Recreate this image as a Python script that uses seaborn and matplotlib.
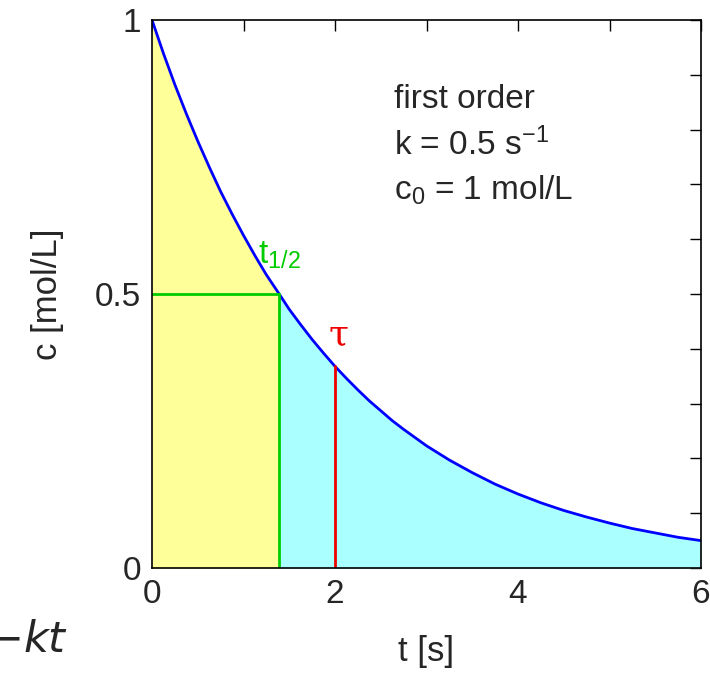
import matplotlib
matplotlib.use("Agg")
import matplotlib.pyplot as plt
import seaborn as sns
import pandas as pd

# valeurs (c en mol/L, t en s)
t = [0, 0.125, 0.25, 0.375, 0.5, 0.625, 0.75, 0.875, 1, 1.125, 1.25, 1.39,
     1.5, 1.625, 1.75, 1.875, 2, 2.125, 2.25, 2.375, 2.5, 2.625, 2.75,
     2.875, 3, 3.25, 3.5, 3.75, 4, 4.25, 4.5, 4.75, 5, 5.25, 5.5, 5.75, 6]
c = [1.0, 0.939, 0.882, 0.829, 0.779, 0.732, 0.687, 0.646, 0.607, 0.570,
     0.535, 0.5, 0.472, 0.444, 0.417, 0.392, 0.368, 0.346, 0.325, 0.305,
     0.287, 0.269, 0.253, 0.238, 0.223, 0.197, 0.174, 0.153, 0.135, 0.119,
     0.105, 0.093, 0.082, 0.072, 0.064, 0.056, 0.050]
t_half, c_half = 1.39, 0.5
tau, c_tau = 2.0, 0.368

df = pd.DataFrame({"t": t, "c": c})

sns.set_style("white")
plt.rcParams["font.family"] = ["Liberation Sans", "DejaVu Sans"]
plt.rcParams["mathtext.fontset"] = "custom"
plt.rcParams["mathtext.rm"] = "Liberation Sans"
plt.rcParams["mathtext.it"] = "Liberation Sans:italic"

fig = plt.figure(figsize=(7.1, 6.76), dpi=100)
ax = fig.add_axes([152/710, 1 - 568/676, 549/710, 548/676])

ax.fill_between(df["t"], df["c"], where=df["t"] <= t_half, color="#ffff99", lw=0)
ax.fill_between(df["t"], df["c"], where=df["t"] >= t_half, color="#aaffff", lw=0)
sns.lineplot(data=df, x="t", y="c", color="#0000ff", lw=2, ax=ax)

ax.plot([0, t_half], [c_half, c_half], color="#00cc00", lw=2)
ax.plot([t_half, t_half], [0, c_half], color="#00cc00", lw=2)
ax.plot([tau, tau], [0, c_tau], color="#ee0000", lw=2)

ax.text(t_half - 0.23, c_half + 0.055, r"t$_\mathregular{1/2}$", color="#00cc00", fontsize=24)
ax.text(tau + 0.04, c_tau + 0.04, "τ", color="#ee0000", fontsize=26,
        family="DejaVu Serif", ha="center")

ax.text(2.65, 0.855, "first order", fontsize=24, va="center")
ax.text(2.65, 0.772, r"k = 0.5 s$^{-1}$", fontsize=24, va="center")
ax.text(2.65, 0.69, r"c$_0$ = 1 mol/L", fontsize=24, va="center")

ax.set_xlim(0, 6)
ax.set_ylim(0, 1)
ax.set_xticks(range(0, 7))
ax.set_xticklabels(["0", "", "2", "", "4", "", "6"])
yt = [i / 10 for i in range(11)]
ax.set_yticks(yt)
ax.set_yticklabels(["0" if v == 0 else "0.5" if v == 0.5 else "1" if v == 1 else "" for v in yt])
ax.tick_params(direction="in", length=8, width=1, top=True, right=True,
               labelsize=24, pad=8, color="black")
for s in ax.spines.values():
    s.set_color("black")
    s.set_linewidth(1.2)

ax.set_xlabel("t [s]", fontsize=25, labelpad=18)
ax.set_ylabel("c [mol/L]", fontsize=25, labelpad=22)

fig.text(68/710, 1 - 652/676, "$-kt$", fontsize=31, ha="right", va="baseline",
         math_fontfamily="dejavusans")

fig.savefig("out.png", dpi=100)
